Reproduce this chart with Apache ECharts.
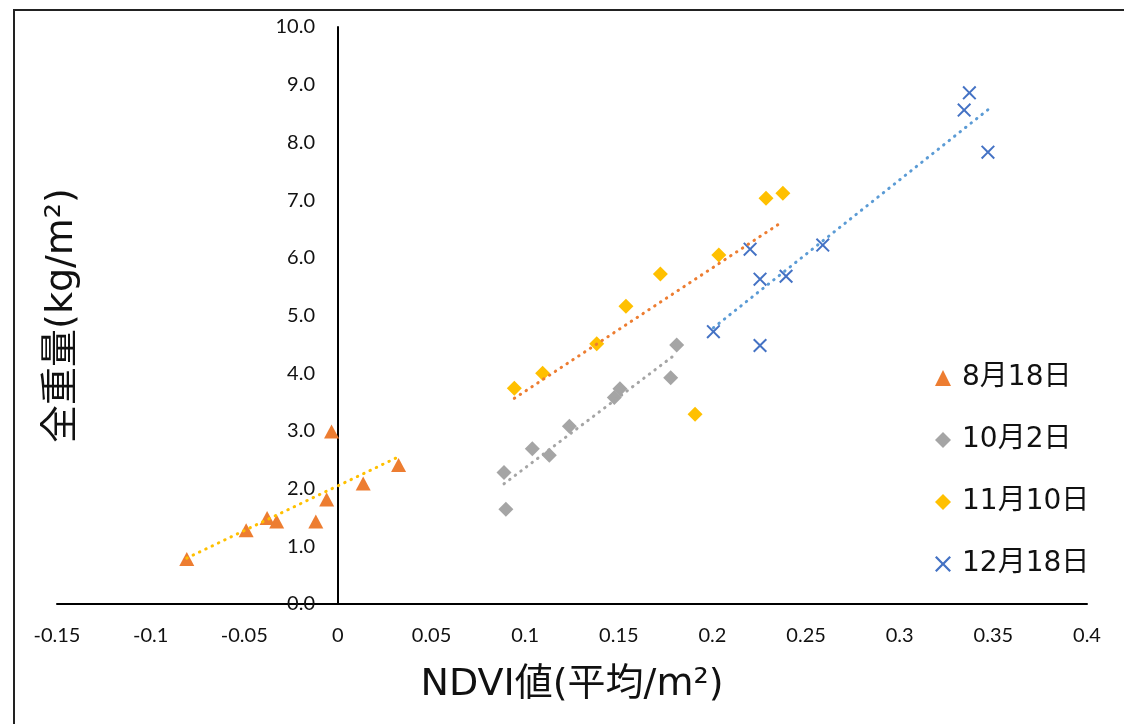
<!DOCTYPE html>
<html>
<head>
<meta charset="utf-8">
<script src="https://cdn.jsdelivr.net/npm/echarts@6/dist/echarts.min.js"></script>
<style>
  html, body { margin: 0; padding: 0; background: #fff; }
  #chart { width: 1124px; height: 724px; }
</style>
</head>
<body>
<div id="chart"></div>
<script>
// Sampling dates (legend order)
const seriesNames = ['8月18日', '10月2日', '11月10日', '12月18日'];

// NDVI (mean per m²) and total weight (kg/m²) per sampling date
const ndviAug18 = [-0.0807, -0.049, -0.0378, -0.0327, -0.0118, -0.006, -0.0034, 0.0135, 0.0324];
const weightAug18 = [0.78, 1.28, 1.49, 1.43, 1.43, 1.81, 2.99, 2.09, 2.41];

const ndviOct2 = [0.0887, 0.0897, 0.1038, 0.1129, 0.1236, 0.1476, 0.1506, 0.1777, 0.1809];
const weightOct2 = [2.28, 1.64, 2.69, 2.58, 3.08, 3.58, 3.73, 3.92, 4.49];

const ndviNov10 = [0.0942, 0.1093, 0.1382, 0.1538, 0.1722, 0.2034, 0.1907, 0.2286, 0.2376];
const weightNov10 = [3.74, 4.00, 4.51, 5.16, 5.72, 6.05, 3.29, 7.03, 7.12];

const ndviDec18 = [0.2005, 0.2254, 0.2201, 0.2254, 0.2393, 0.2589, 0.3344, 0.3372, 0.3471];
const weightDec18 = [4.72, 4.48, 6.15, 5.63, 5.68, 6.22, 8.56, 8.86, 7.83];

// Axis ranges and titles
const xMin = -0.15, xMax = 0.4, xStep = 0.05;
const yMin = 0, yMax = 10, yStep = 1;
const xAxisTitle = 'NDVI値(平均/m²)';
const yAxisTitle = '全重量(kg/m²)';

const markerColors = ['#ED7D31', '#A5A5A5', '#FFC000', '#4472C4'];
const trendColors = ['#FFC000', '#A5A5A5', '#ED7D31', '#5B9BD5'];
const crossPath = 'path://M1,0 L5,4 L9,0 L10,1 L6,5 L10,9 L9,10 L5,6 L1,10 L0,9 L4,5 L0,1 Z';
const markerShapes = ['triangle', 'diamond', 'diamond', crossPath];
const markerSizes = [[15, 14], 15, 15, 14];

const groups = [
  [ndviAug18, weightAug18],
  [ndviOct2, weightOct2],
  [ndviNov10, weightNov10],
  [ndviDec18, weightDec18]
];

function pairs(xs, ys) {
  return xs.map((x, i) => [x, ys[i]]);
}

// Least-squares linear trend spanning the range of the group's NDVI values
function trendEnds(xs, ys) {
  const n = xs.length;
  const mx = xs.reduce((a, b) => a + b, 0) / n;
  const my = ys.reduce((a, b) => a + b, 0) / n;
  let sxy = 0, sxx = 0;
  for (let i = 0; i < n; i++) {
    sxy += (xs[i] - mx) * (ys[i] - my);
    sxx += (xs[i] - mx) * (xs[i] - mx);
  }
  const slope = sxy / sxx;
  const icpt = my - slope * mx;
  const x0 = Math.min(...xs), x1 = Math.max(...xs);
  return [[x0, icpt + slope * x0], [x1, icpt + slope * x1]];
}

const latinCjk = '"DejaVu Sans", "Noto Sans CJK JP", sans-serif';

const gridLeft = 57, gridRight = 37;
const plotWidth = 1124 - gridLeft - gridRight;
// Shift the value axis so that it sits on NDVI = 0, labels included
const yAxisShift = -Math.round((0 - xMin) / (xMax - xMin) * plotWidth);

const series = [];
groups.forEach(([xs, ys], i) => {
  series.push({
    name: seriesNames[i],
    type: 'scatter',
    data: pairs(xs, ys),
    symbol: markerShapes[i],
    symbolSize: markerSizes[i],
    itemStyle: { color: markerColors[i], opacity: 1 },
    z: 2
  });
});
groups.forEach(([xs, ys], i) => {
  series.push({
    name: seriesNames[i] + ' trend',
    type: 'line',
    data: trendEnds(xs, ys),
    symbol: 'none',
    silent: true,
    lineStyle: { color: trendColors[i], width: 3, type: [0.5, 6.5], cap: 'round' },
    z: 3
  });
});

const chart = echarts.init(document.getElementById('chart'), null, { renderer: 'canvas' });
chart.setOption({
  animation: false,
  backgroundColor: '#fff',
  grid: { left: gridLeft, right: gridRight, top: 27, bottom: 120, containLabel: false, outerBoundsMode: 'none' },
  xAxis: {
    type: 'value',
    min: xMin, max: xMax, interval: xStep,
    name: xAxisTitle,
    nameLocation: 'middle',
    nameGap: 62,
    nameTextStyle: { fontFamily: latinCjk, fontSize: 38, color: '#111' },
    axisLine: { show: true, onZero: true, lineStyle: { color: '#000', width: 2 } },
    axisTick: { show: false },
    splitLine: { show: false },
    axisLabel: { fontFamily: 'Lato, sans-serif', fontSize: 20, color: '#111', margin: 22 }
  },
  yAxis: {
    type: 'value',
    min: yMin, max: yMax, interval: yStep,
    offset: yAxisShift,
    name: yAxisTitle,
    nameLocation: 'middle',
    nameGap: 257,
    nameTextStyle: { fontFamily: latinCjk, fontSize: 38, color: '#111' },
    axisLine: { show: true, onZero: false, lineStyle: { color: '#000', width: 2 } },
    axisTick: { show: false },
    splitLine: { show: false },
    axisLabel: {
      fontFamily: 'Lato, sans-serif', fontSize: 20, color: '#111', margin: 23,
      formatter: v => v.toFixed(1)
    }
  },
  legend: {
    data: seriesNames,
    orient: 'vertical',
    left: 930,
    top: 358,
    itemWidth: 16,
    itemHeight: 16,
    itemGap: 32,
    textStyle: { fontFamily: latinCjk, fontSize: 28, color: '#111', lineHeight: 30, padding: [0, 0, 0, 6] }
  },
  graphic: [{
    type: 'rect',
    shape: { x: 14, y: 10, width: 1200, height: 800 },
    style: { fill: 'none', stroke: '#222', lineWidth: 2 },
    silent: true,
    z: 0
  }],
  series: series
});
</script>
</body>
</html>
